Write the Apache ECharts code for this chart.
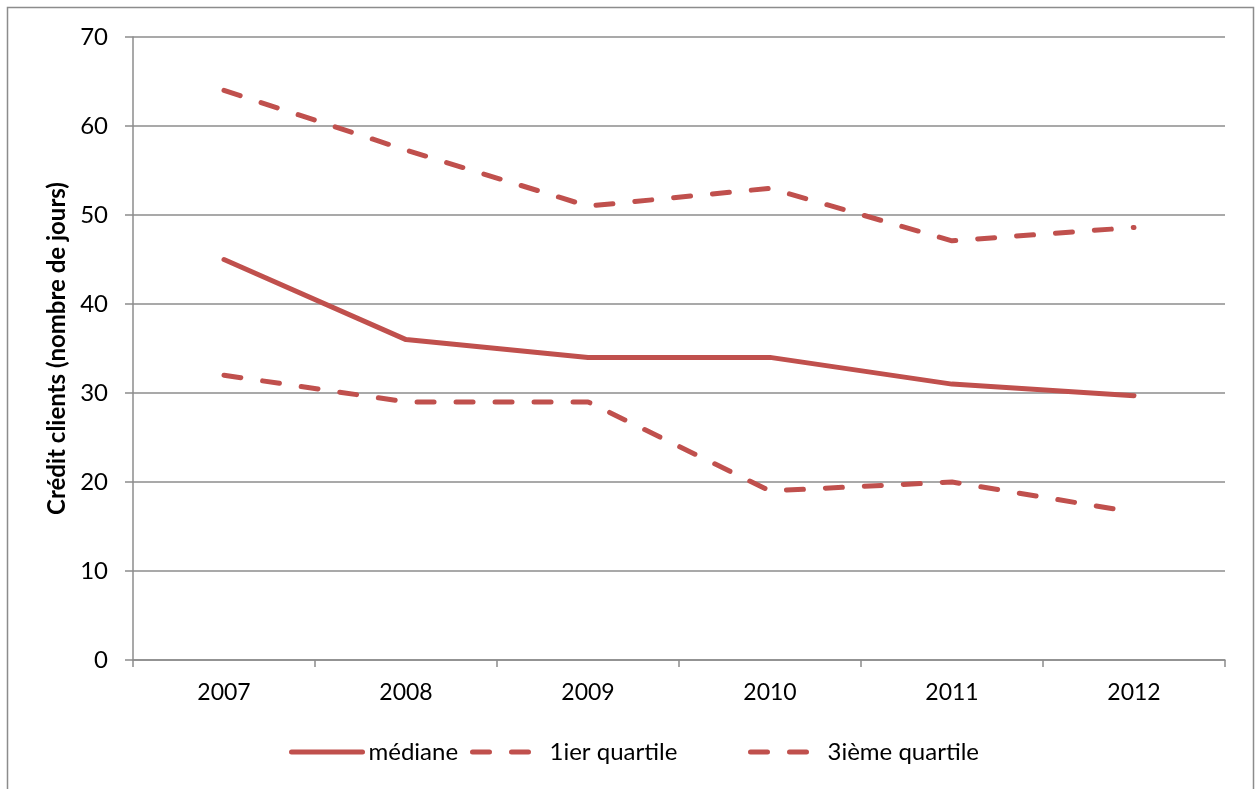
<!DOCTYPE html>
<html>
<head>
<meta charset="utf-8">
<script src="https://cdn.jsdelivr.net/npm/echarts@6/dist/echarts.min.js"></script>
<style>
  html, body { margin: 0; padding: 0; background: #fff; }
  #chart { width: 1255px; height: 789px; }
</style>
</head>
<body>
<div id="chart"></div>
<script>
// Years on the horizontal axis
const years = ['2007', '2008', '2009', '2010', '2011', '2012'];

// Days of customer credit per year
const mediane = [45, 36, 34, 34, 31, 29.7];
const quartile1 = [32, 29, 29, 19, 20, 16.6];
const quartile3 = [64, 57.3, 51, 53, 47.1, 48.6];

const seriesNames = ['médiane', '1ier quartile', '3ième quartile'];
const yTitle = 'Crédit clients (nombre de jours)';

const red = '#C0504D';
const gray = '#8C8C8C';
const font = 'Lato, "Open Sans", sans-serif';
const dash = [17, 22];
const legendLeft = [289, 470, 748];

const chart = echarts.init(document.getElementById('chart'), null, { renderer: 'canvas' });

// One legend per series so each entry keeps its own spot along the bottom
const legends = seriesNames.map((name, i) => ({
  top: 740,
  left: legendLeft[i],
  padding: 0,
  itemWidth: 71,
  itemHeight: 14,
  textStyle: { fontFamily: font, fontSize: 24, color: '#000', padding: [0, 0, 0, 1] },
  data: [{
    name: name,
    itemStyle: { opacity: 0 },
    lineStyle: { width: 5, type: i === 0 ? 'solid' : dash, cap: 'round' }
  }]
}));

chart.setOption({
  animation: false,
  backgroundColor: '#fff',
  graphic: [{
    type: 'rect',
    shape: { x: 7.5, y: 7.5, width: 1246, height: 800 },
    style: { fill: 'none', stroke: gray, lineWidth: 1.5 },
    silent: true
  }],
  grid: { left: 133, right: 30, top: 37, bottom: 129 },
  legend: legends,
  xAxis: {
    type: 'category',
    data: years,
    boundaryGap: true,
    axisLine: { lineStyle: { color: gray, width: 1.5 } },
    axisTick: { show: true, length: 7, interval: 0, lineStyle: { color: gray, width: 1.5 } },
    axisLabel: { fontFamily: font, fontSize: 23, color: '#000', margin: 21 }
  },
  yAxis: {
    type: 'value',
    min: 0,
    max: 70,
    interval: 10,
    name: yTitle,
    nameLocation: 'middle',
    nameGap: 62,
    nameTextStyle: { fontFamily: font, fontSize: 24, fontWeight: 'bold', color: '#000' },
    axisLine: { show: true, lineStyle: { color: gray, width: 1.5 } },
    axisTick: { show: true, length: 8, lineStyle: { color: gray, width: 1.5 } },
    axisLabel: { fontFamily: font, fontSize: 24, color: '#000', margin: 25 },
    splitLine: { show: true, lineStyle: { color: gray, width: 1.5 } }
  },
  series: [
    {
      name: seriesNames[0],
      type: 'line',
      data: mediane,
      symbol: 'none',
      color: red,
      lineStyle: { color: red, width: 5, cap: 'round', join: 'round' }
    },
    {
      name: seriesNames[1],
      type: 'line',
      data: quartile1,
      symbol: 'none',
      color: red,
      lineStyle: { color: red, width: 5, type: dash, cap: 'round', join: 'round' }
    },
    {
      name: seriesNames[2],
      type: 'line',
      data: quartile3,
      symbol: 'none',
      color: red,
      lineStyle: { color: red, width: 5, type: dash, cap: 'round', join: 'round' }
    }
  ]
});
</script>
</body>
</html>
